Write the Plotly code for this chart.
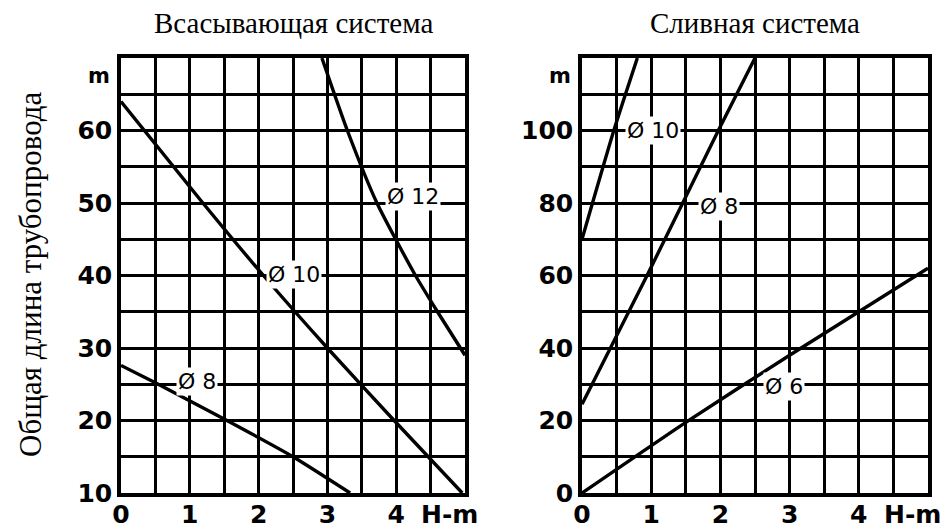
import plotly.graph_objects as go

# --- data -----------------------------------------------------------------
# suction system (left panel): length in m vs head H in m
suction_d8_h = [0, 0.5, 1.54, 2.5, 3.33]
suction_d8_len = [27.6, 25.2, 20.0, 15.0, 10.0]
suction_d10_h = [0, 1.19, 2.07, 3.0, 3.97, 4.96]
suction_d10_len = [64.0, 50.0, 40.0, 30.0, 20.0, 10.0]
suction_d12_h = [2.92, 3.29, 3.72, 4.28, 4.6, 5.0]
suction_d12_len = [70.0, 60.0, 50.0, 40.0, 35.0, 29.0]

# drain system (right panel)
drain_d6_h = [0, 1.5, 3.0, 5.0]
drain_d6_len = [0.0, 19.5, 38.0, 62.0]
drain_d8_h = [0, 0.94, 1.97, 2.5]
drain_d8_len = [24.5, 60.0, 100.0, 120.0]
drain_d10_h = [0, 0.46, 0.8]
drain_d10_len = [70.0, 100.0, 120.0]

x_ticks = [0, 0.5, 1, 1.5, 2, 2.5, 3, 3.5, 4, 4.5, 5]
x_ticktext = ["0", "", "1", "", "2", "", "3", "", "4", "", ""]
left_y_ticks = [10, 15, 20, 25, 30, 35, 40, 45, 50, 55, 60, 65, 70]
left_y_text = ["10", "", "20", "", "30", "", "40", "", "50", "", "60", "", ""]
right_y_ticks = [0, 10, 20, 30, 40, 50, 60, 70, 80, 90, 100, 110, 120]
right_y_text = ["0", "", "20", "", "40", "", "60", "", "80", "", "100", "", ""]

titles = ["Всасывающая система", "Сливная система"]
y_title = "Общая длина трубопровода"

# labels: (text, x, y, axis)
curve_labels = [
    ("Ø 12", 4.25, 50.9, "1"),
    ("Ø 10", 2.52, 40.2, "1"),
    ("Ø 8", 1.1, 25.4, "1"),
    ("Ø 10", 1.03, 100.0, "2"),
    ("Ø 8", 1.98, 79.0, "2"),
    ("Ø 6", 2.92, 29.3, "2"),
]

# the page puts the plot 8px in from the top-left corner of the window
OFF = 8
W, H = 951 - OFF, 530 - OFF


def px(x):
    return (x - OFF) / W


def py(y):
    return 1 - (y - OFF) / H


fig = go.Figure()
line = dict(color="black", width=3.4, shape="spline", smoothing=0.6)
for xs, ys in [(suction_d8_h, suction_d8_len), (suction_d10_h, suction_d10_len),
               (suction_d12_h, suction_d12_len)]:
    fig.add_trace(go.Scatter(x=xs, y=ys, mode="lines", line=line,
                             xaxis="x", yaxis="y", showlegend=False))
for xs, ys in [(drain_d6_h, drain_d6_len), (drain_d8_h, drain_d8_len),
               (drain_d10_h, drain_d10_len)]:
    fig.add_trace(go.Scatter(x=xs, y=ys, mode="lines", line=line,
                             xaxis="x2", yaxis="y2", showlegend=False))

tick_font = dict(family="DejaVu Sans", size=25, color="black", weight="bold")
ax_common = dict(showgrid=True, gridcolor="black", gridwidth=2.6, zeroline=False,
                 showline=True, linecolor="black", linewidth=3.5, mirror=True,
                 ticks="", tickfont=tick_font, tickmode="array", fixedrange=True,
                 automargin=False)
ydom = [py(493), py(58)]

fig.update_layout(
    width=W, height=H, margin=dict(l=0, r=0, t=0, b=0, autoexpand=False),
    plot_bgcolor="white", paper_bgcolor="white",
    xaxis=dict(domain=[px(121), px(465)], range=[0, 5], tickvals=x_ticks,
               ticktext=x_ticktext, anchor="y", ticklabelstandoff=-4, **ax_common),
    yaxis=dict(domain=ydom, range=[10, 70], tickvals=left_y_ticks,
               ticktext=left_y_text, anchor="x", ticklabelstandoff=0, **ax_common),
    xaxis2=dict(domain=[px(582), px(928)], range=[0, 5], tickvals=x_ticks,
                ticktext=x_ticktext, anchor="y2", ticklabelstandoff=-4, **ax_common),
    yaxis2=dict(domain=ydom, range=[0, 120], tickvals=right_y_ticks,
                ticktext=right_y_text, anchor="x2", ticklabelstandoff=0, **ax_common),
)

for text, x, y, ax in curve_labels:
    fig.add_annotation(text=text, x=x, y=y, xref="x" + ("" if ax == "1" else ax),
                       yref="y" + ("" if ax == "1" else ax), showarrow=False,
                       bgcolor="white", borderpad=1,
                       font=dict(family="DejaVu Sans", size=22, color="black"))

# unit labels
for xr, yr, ytop in [("x", "y", 70), ("x2", "y2", 120)]:
    fig.add_annotation(text="m", x=0, y=ytop, xref=xr, yref=yr, xanchor="right",
                       yanchor="top", xshift=-9, yshift=-4, showarrow=False,
                       font=dict(family="DejaVu Sans", size=21, color="black", weight="bold"))
    fig.add_annotation(text="H-m", x=4.77, y=py(514), xref=xr, yref="paper",
                       xanchor="center", yanchor="middle", showarrow=False,
                       font=dict(family="DejaVu Sans", size=25, color="black", weight="bold"))

for text, xc in zip(titles, [px(293), px(755)]):
    fig.add_annotation(text=text, x=xc, y=py(23), xref="paper", yref="paper",
                       xanchor="center", yanchor="middle", showarrow=False,
                       font=dict(family="Liberation Serif", size=29, color="black"))

fig.add_annotation(text=y_title, x=px(30), y=py(274), xref="paper", yref="paper",
                   xanchor="center", yanchor="middle", showarrow=False, textangle=-90,
                   font=dict(family="Liberation Serif", size=31, color="black"))

fig.write_html("out.html")
